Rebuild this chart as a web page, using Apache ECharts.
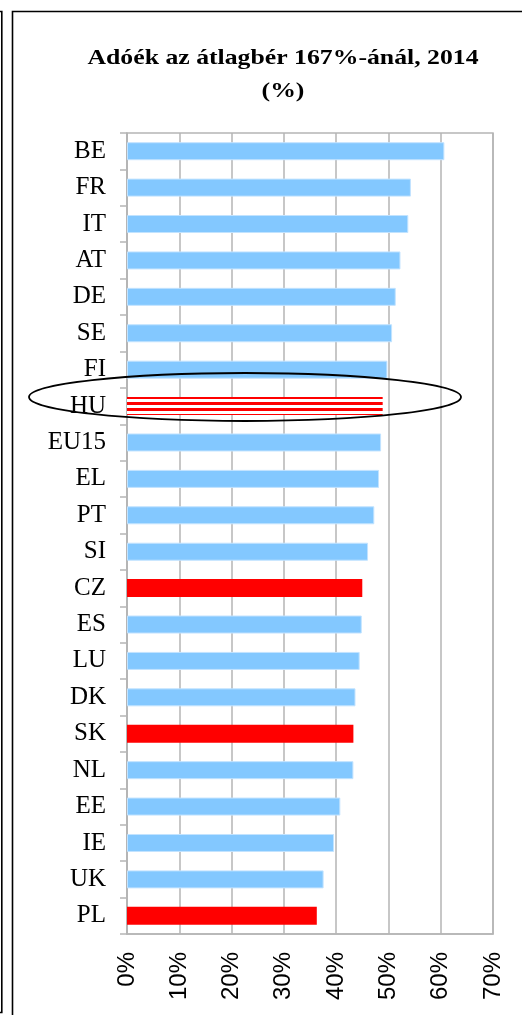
<!DOCTYPE html>
<html>
<head>
<meta charset="utf-8">
<script src="https://cdn.jsdelivr.net/npm/echarts@6/dist/echarts.min.js"></script>
<style>
  html, body { margin: 0; padding: 0; background: #fff; }
  #chart { width: 522px; height: 1015px; }
</style>
</head>
<body>
<div id="chart"></div>
<script>
  // data (%)
  const countries = ['BE', 'FR', 'IT', 'AT', 'DE', 'SE', 'FI', 'HU', 'EU15', 'EL', 'PT', 'SI',
    'CZ', 'ES', 'LU', 'DK', 'SK', 'NL', 'EE', 'IE', 'UK', 'PL']
  const values = [60.7, 54.3, 53.8, 52.3, 51.4, 50.7, 49.8, 48.9, 48.6, 48.2, 47.3, 46.1,
    45.0, 44.9, 44.5, 43.7, 43.3, 43.3, 40.8, 39.6, 37.6, 36.3]
  const redCountries = ['CZ', 'SK', 'PL']
  const stripedCountries = ['HU']
  const xTicks = [0, 10, 20, 30, 40, 50, 60, 70]

  // striped fill for HU
  let stripe = document.createElement('canvas')
  stripe.width = 4
  stripe.height = 6
  let ctx = stripe.getContext('2d')
  ctx.fillStyle = '#ffffff'
  ctx.fillRect(0, 0, 4, 6)
  ctx.fillStyle = '#ff0000'
  ctx.fillRect(0, 0, 4, 3)

  let barData = countries.map((c, i) => {
    let item = {value: values[i]}
    if (redCountries.includes(c)) {
      item.itemStyle = {color: '#ff0000', borderWidth: 0}
    } else if (stripedCountries.includes(c)) {
      item.itemStyle = {color: {image: stripe, repeat: 'repeat'}, borderWidth: 0}
    }
    return item
  })

  const gridGray = '#b5b5b5'
  const titleFont = 'bold 22px "Liberation Serif"'

  let option = {
    backgroundColor: '#ffffff',
    animation: false,
    grid: {
      left: 127,
      right: 29,
      top: 133,
      bottom: 81,
      show: true,
      borderColor: gridGray,
      borderWidth: 1.5
    },
    xAxis: {
      type: 'value',
      min: xTicks[0],
      max: xTicks[xTicks.length - 1],
      interval: 10,
      axisLine: {show: true, lineStyle: {color: gridGray, width: 1.5}},
      axisTick: {show: false},
      splitLine: {show: true, lineStyle: {color: gridGray, width: 1.5}},
      axisLabel: {
        rotate: 90,
        margin: 18,
        color: '#000',
        fontFamily: 'Liberation Sans',
        fontSize: 24,
        formatter: '{value}%'
      }
    },
    yAxis: {
      type: 'category',
      inverse: true,
      data: countries,
      axisLine: {show: true, lineStyle: {color: gridGray, width: 1.5}},
      axisTick: {show: true, length: 7, lineStyle: {color: gridGray, width: 1.5}},
      splitLine: {show: false},
      axisLabel: {
        margin: 21,
        color: '#000',
        fontFamily: 'Liberation Serif',
        fontSize: 25
      }
    },
    series: [{
      type: 'bar',
      barWidth: 18,
      itemStyle: {
        color: '#83c8ff',
        borderColor: '#c2e3ff',
        borderWidth: 1
      },
      data: barData
    }],
    graphic: [
      // outer frame lines
      {
        type: 'polyline',
        shape: {points: [[12.5, 1020], [12.5, 11.5], [530, 11.5]]},
        style: {stroke: '#000', lineWidth: 1.6, fill: null}
      },
      {
        type: 'polyline',
        shape: {points: [[-5, 11.5], [1.8, 11.5], [1.8, 1012.5], [-5, 1012.5]]},
        style: {stroke: '#000', lineWidth: 1.6, fill: null}
      },
      {
        type: 'text',
        x: 283,
        y: 58,
        scaleX: 1.17,
        style: {
          text: 'Adóék az átlagbér 167%-ánál, 2014',
          font: titleFont,
          fill: '#000',
          align: 'center',
          verticalAlign: 'middle'
        }
      },
      {
        type: 'text',
        x: 283,
        y: 91,
        scaleX: 1.17,
        style: {
          text: '(%)',
          font: titleFont,
          fill: '#000',
          align: 'center',
          verticalAlign: 'middle'
        }
      },
      // ellipse marking HU
      {
        type: 'ellipse',
        z: 100,
        shape: {cx: 245, cy: 397, rx: 216, ry: 24},
        style: {stroke: '#000', lineWidth: 1.8, fill: null}
      }
    ]
  }

  let chart = echarts.init(document.getElementById('chart'))
  chart.setOption(option)
</script>
</body>
</html>
